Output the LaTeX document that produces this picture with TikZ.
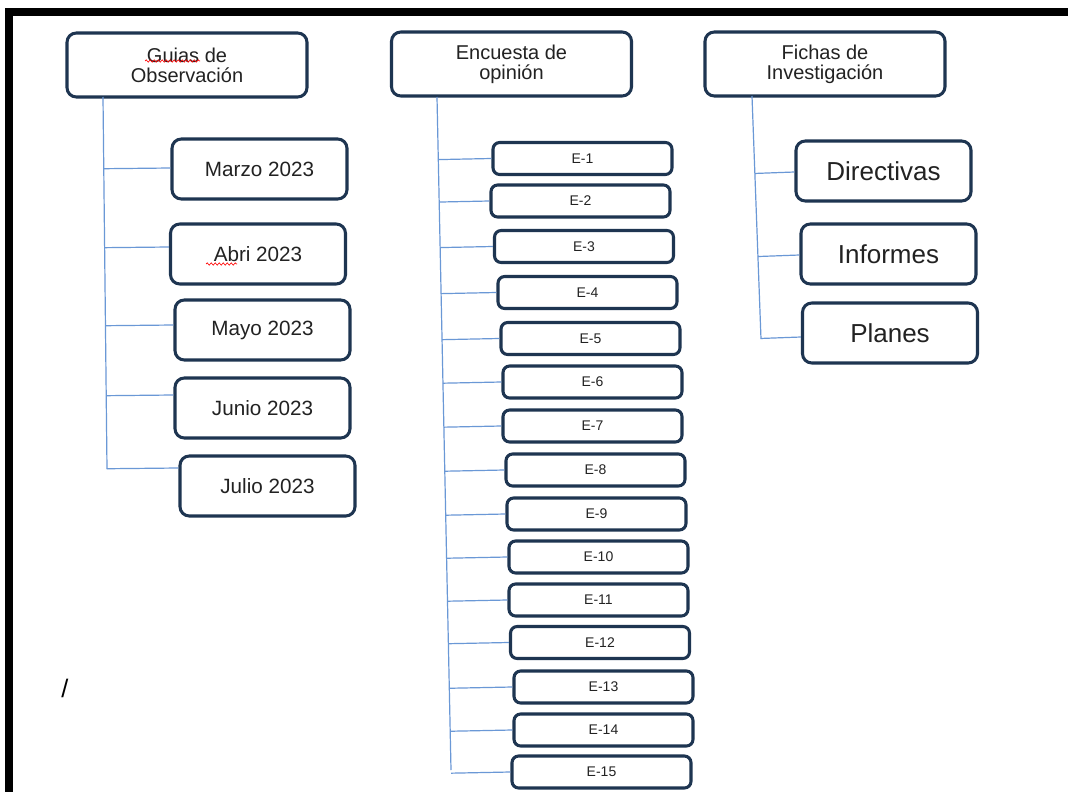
\documentclass[tikz,border=0pt]{standalone}
\usepackage{fontspec}
\setmainfont{Liberation Sans}
\usetikzlibrary{calc,decorations.pathmorphing}
\definecolor{bxc}{HTML}{1E3551}
\definecolor{lnc}{HTML}{6A98D6}
\definecolor{txc}{HTML}{222222}
\begin{document}
\begin{tikzpicture}[x=0.75pt,y=-0.75pt,
 bx/.style={draw=bxc, line width=2.3pt, rounded corners=7pt, fill=white, text=txc, inner sep=0pt, align=center},
 sz/.style 2 args={minimum width=#1*0.75pt, minimum height=#2*0.75pt},
 hd/.style={bx, sz={240}{64}, font=\fontsize{15}{15}\selectfont},
 mo/.style={bx, sz={175}{60}, font=\fontsize{15.5}{18}\selectfont},
 ri/.style={bx, sz={175}{60}, font=\fontsize{19.5}{22}\selectfont},
 ee/.style={bx, sz={179}{32}, rounded corners=5pt, font=\fontsize{10.5}{11}\selectfont},
 ln/.style={draw=lnc, line width=0.9pt},
 sq/.style={draw=red, line width=0.5pt, decorate, decoration={snake, amplitude=0.8pt, segment length=3pt}}
]
\useasboundingbox (0,0) rectangle (1068,792);
\fill[white] (0,0) rectangle (1068,792);
% frame
\fill[black] (5,8) rectangle (1068,16);
\fill[black] (5,8) rectangle (13,792);

% headers
\node[hd] (g) at (187,65) {Guias de\\Observación};
\node[hd] (e) at (511.5,64) {Encuesta de\\opinión};
\node[hd] (f) at (825,64) {Fichas de\\Investigación};

% trunks
\coordinate (gt) at (103,97);
\coordinate (gb) at (107,469);
\coordinate (et) at (437,97);
\coordinate (eb) at (451,770);
\coordinate (ft) at (752,96);
\coordinate (fb) at (761,339);
\draw[ln] (gt) -- (gb);
\draw[ln] (et) -- (eb);
\draw[ln] (ft) -- (fb);

% months
\node[mo] (m1) at (259.5,169) {Marzo 2023};
\node[mo] (m2) at (258,254) {Abri 2023};
\node[mo] (m3) at (262.5,330) {Mayo 2023};
\node[mo] (m4) at (262.5,408) {Junio 2023};
\node[mo] (m5) at (267.5,486) {Julio 2023};
\foreach \n/\d in {m1/-1,m2/-7,m3/-5,m4/-13,m5/-18}
  \draw[ln] ($(gt)!($(\n.west)+(0,\d)$)!(gb)$) -- ($(\n.west)+(0,\d)$);

% right
\node[ri] (r1) at (883.5,171) {Directivas};
\node[ri] (r2) at (888.5,254) {Informes};
\node[ri] (r3) at (890,333) {Planes};
\foreach \n/\d in {r1/1,r2/1,r3/4}
  \draw[ln] ($(ft)!($(\n.west)+(0,\d)$)!(fb)$) -- ($(\n.west)+(0,\d)$);

% E boxes
\foreach \i/\x/\y in {1/582.5/158.5, 2/580.5/201, 3/584/246.5, 4/587.5/292.5, 5/590.5/338.5,
  6/592.5/382, 7/592.5/426, 8/595.5/470, 9/596.5/514, 10/598.5/557, 11/598.5/600,
  12/600/642.5, 13/603.5/687, 14/603.5/730, 15/601.5/772} {
  \node[ee] (E\i) at (\x,\y) {E-\i};
  \draw[ln] ($(et)!(E\i.west)!(eb)$) -- (E\i.west);
}

% spell-check squiggles
\draw[sq] (145,61) -- (200,61);
\draw[sq] (206,264) -- (237,264);

% stray slash
\node[text=black, font=\fontsize{19}{20}\selectfont, inner sep=0pt] (sl) at (65,688) {/};
\end{tikzpicture}
\end{document}
